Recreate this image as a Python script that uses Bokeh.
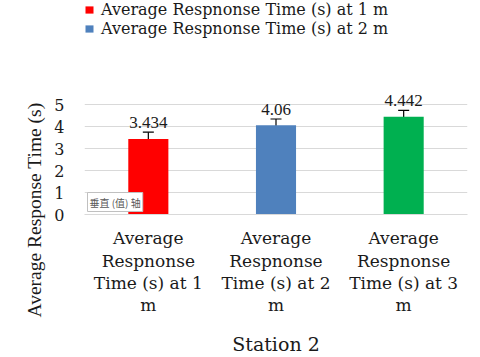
import textwrap
from bokeh.plotting import figure
from bokeh.models import (ColumnDataSource, Range1d, FixedTicker, Whisker, LinearAxis,
                          TeeHead, LabelSet, Label, Legend, LegendItem, Title)
from bokeh.embed import file_html
from bokeh.resources import INLINE

categories = ["Average Respnonse Time (s) at 1 m",
              "Average Respnonse Time (s) at 2 m",
              "Average Respnonse Time (s) at 3 m"]
values = [3.434, 4.06, 4.442]
errors = [0.31, 0.28, 0.29]
colors = ["#FF0000", "#4F81BD", "#00B050"]
y_ticks = [0, 1, 2, 3, 4, 5]
y_title = "Average Response Time (s)"
x_title = "Station 2"
tooltip_text = "垂直 (值) 轴"

SERIF = "DejaVu Serif"
TXT = "#1a1a1a"

xs = list(range(1, len(categories) + 1))   # category slots on the x scale
src = ColumnDataSource(dict(
    x=xs, cat=categories, val=values, color=colors,
    upper=[v + e for v, e in zip(values, errors)],
    lower=[v - e for v, e in zip(values, errors)],
    lab=[str(v) for v in values],
))

W, H = 480, 357
F_BOT = 214
# value axis shows 0..5; the (invisible) frame extends upward to hold the legend
Y_TOP = 5 + 104 / 22.0
p = figure(width=W, height=H, x_range=Range1d(0.5, len(categories) + 0.5),
           y_range=Range1d(0, Y_TOP),
           output_backend="svg", toolbar_location=None, x_axis_type=None,
           min_border_left=84, min_border_right=13, min_border_top=0, min_border_bottom=H - F_BOT)
p.title.visible = False
p.outline_line_color = None
p.background_fill_color = "white"
p.border_fill_color = "white"

bars = p.vbar(x="x", top="val", width=0.314, color="color", source=src, line_color=None)

p.add_layout(Whisker(source=src, base="x", upper="upper", lower="lower",
                     line_color="black", line_width=1.2,
                     upper_head=TeeHead(size=11, line_color="black", line_width=1.2),
                     lower_head=TeeHead(size=11, line_color="black", line_width=1.2)))

p.add_layout(LabelSet(x="x", y="val", text="lab", source=src, y_offset=16,
                      text_align="center", text_baseline="middle",
                      text_font=SERIF, text_font_size="17px", text_color=TXT))

# grid
p.ygrid.ticker = FixedTicker(ticks=y_ticks)
p.ygrid.grid_line_color = "#d9d9d9"
p.ygrid.grid_line_width = 1

# y axis
p.yaxis.ticker = FixedTicker(ticks=y_ticks)
p.yaxis.axis_line_color = None
p.yaxis.major_tick_line_color = None
p.yaxis.minor_tick_line_color = None
p.yaxis.major_tick_in = 0
p.yaxis.major_tick_out = 0
p.yaxis.major_label_standoff = 20
p.yaxis.major_label_text_font = SERIF
p.yaxis.major_label_text_font_size = "16px"
p.yaxis.major_label_text_color = TXT

# x axis: wrapped category labels, one stacked axis per text line
wrapped = [textwrap.wrap(c, 13) for c in categories]
n_lines = max(len(v) for v in wrapped)
standoffs = [13, 0, -1, -1]
for i in range(n_lines):
    ax = LinearAxis(ticker=FixedTicker(ticks=xs))
    ax.axis_line_color = "#d9d9d9" if i == 0 else None
    ax.major_tick_line_color = None
    ax.minor_tick_line_color = None
    ax.major_tick_in = 0
    ax.major_tick_out = 0
    ax.major_label_standoff = standoffs[i]
    ax.major_label_text_font = SERIF
    ax.major_label_text_font_size = "17px"
    ax.major_label_text_line_height = 1.0
    ax.major_label_text_color = TXT
    ax.major_label_overrides = {x: (w[i] if i < len(w) else " ") for x, w in zip(xs, wrapped)}
    if i == n_lines - 1:
        ax.axis_label = x_title
        ax.axis_label_standoff = 15
        ax.axis_label_text_font = SERIF
        ax.axis_label_text_font_size = "19px"
        ax.axis_label_text_font_style = "normal"
        ax.axis_label_text_line_height = 1.0
        ax.axis_label_text_color = TXT
    p.add_layout(ax, "below")

# value-axis title
p.add_layout(Title(text=y_title, align="left", offset=-103, standoff=14,
                   text_font="Liberation Serif", text_font_size="19.5px", text_font_style="normal",
                   text_color=TXT), "left")

# tooltip artefact next to the value axis
tip = Label(x=3, y=3, x_units="screen", y_units="screen", text=tooltip_text,
            text_align="left", text_baseline="bottom",
            text_font="Noto Sans CJK SC", text_font_size="10px", text_color="#595959",
            background_fill_color="white", border_line_color="#c0c0c0",
            padding=2)
p.add_layout(tip)

# legend at the top of the (extended) frame
legend = Legend(items=[LegendItem(label=categories[0], renderers=[bars], index=0),
                       LegendItem(label=categories[1], renderers=[bars], index=1)],
                location="top_left", orientation="vertical",
                glyph_width=10, glyph_height=9, label_standoff=7, spacing=0,
                padding=0, margin=0, label_height=17,
                label_text_font=SERIF, label_text_font_size="16px", label_text_color=TXT,
                border_line_color=None, background_fill_alpha=0)
p.add_layout(legend)

open("out.html", "w").write(file_html(p, INLINE))
